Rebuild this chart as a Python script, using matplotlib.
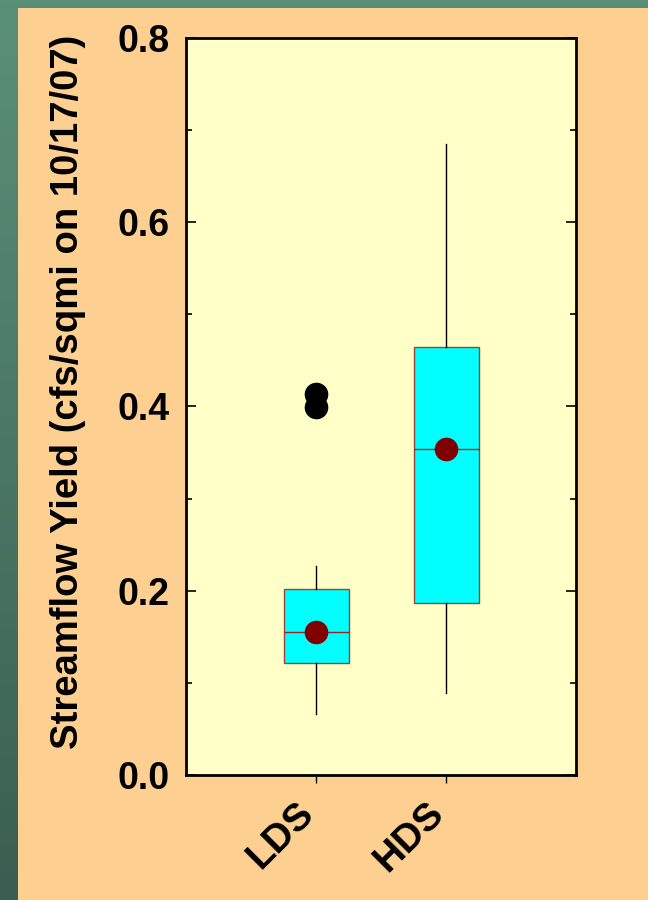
import numpy as np
import matplotlib.pyplot as plt
import matplotlib.transforms as mtransforms
from matplotlib.ticker import MultipleLocator

plt.rcParams['font.family'] = ['Liberation Sans', 'DejaVu Sans']

# Box summary per group
groups = ["LDS", "HDS"]
q1 = [0.122, 0.187]
med = [0.155, 0.354]
q3 = [0.202, 0.465]
whislo = [0.066, 0.089]
whishi = [0.227, 0.685]
means = [0.155, 0.354]
fliers = [[0.414, 0.400], []]

fig = plt.figure(figsize=(6.48, 9.0), dpi=100)
fig.patch.set_facecolor("#FDD091")

# green slide border (left strip and top band)
bg = fig.add_axes([0, 0, 1, 1], zorder=-1)
grad = np.linspace(0, 1, 256).reshape(-1, 1)
top_c = np.array([0x5B, 0x90, 0x78]) / 255
bot_c = np.array([0x3A, 0x5E, 0x51]) / 255
img = top_c * (1 - grad[..., None]) + bot_c * grad[..., None]
bg.imshow(img, extent=[0, 1, 0, 1], aspect="auto", origin="upper")
bg.add_patch(plt.Rectangle((18 / 648, 0), 1, 1 - 8 / 900, color="#FDD091", lw=0))
bg.set_xlim(0, 1)
bg.set_ylim(0, 1)
bg.axis("off")

ax = fig.add_axes([186 / 648, 1 - 775 / 900, 390 / 648, 737 / 900])
ax.set_facecolor("#FFFFC8")

stats = []
for i, g in enumerate(groups):
    stats.append(dict(label=g, q1=q1[i], med=med[i], q3=q3[i],
                      whislo=whislo[i], whishi=whishi[i], fliers=fliers[i]))

ax.bxp(stats, positions=[1, 2], widths=0.5, patch_artist=True,
       showcaps=False,
       boxprops=dict(facecolor="#00FFFF", edgecolor="#A0403A", linewidth=1.0),
       medianprops=dict(color="#A02020", linewidth=1.0),
       whiskerprops=dict(color="black", linewidth=1.0),
       flierprops=dict(marker="o", markerfacecolor="black", markeredgecolor="black",
                       markersize=16))
ax.plot([1, 2], means, "o", color="#800000", markersize=16, zorder=5)

ax.set_xlim(0, 3)
ax.set_ylim(0, 0.8)
ax.yaxis.set_major_locator(MultipleLocator(0.2))
ax.yaxis.set_minor_locator(MultipleLocator(0.1))
ax.set_yticklabels([f"{v:.1f}" for v in ax.get_yticks()])
ax.tick_params(axis="y", which="both", direction="in", right=True, length=7, width=1.2,
               labelsize=27, pad=12)
ax.tick_params(axis="y", which="minor", length=4)
ax.tick_params(axis="x", direction="out", length=6, width=1, labelsize=28, pad=4)
for lab in ax.get_yticklabels():
    lab.set_fontweight("bold")
ax.set_xticks([1, 2])
ax.set_xticklabels(groups, rotation=45, ha="right", rotation_mode="anchor",
                   fontweight="bold")
shift = mtransforms.ScaledTranslation(-0.2, -0.06, fig.dpi_scale_trans)
for lab in ax.get_xticklabels():
    lab.set_transform(lab.get_transform() + shift)
for s in ax.spines.values():
    s.set_linewidth(2)

ax.set_ylabel("Streamflow Yield (cfs/sqmi on 10/17/07)", fontsize=27.5,
              fontweight="bold", va="center")
ax.yaxis.set_label_coords((68 - 186) / 390, (775 - 392) / 737)

fig.savefig("out.png", dpi=100, facecolor=fig.get_facecolor())
